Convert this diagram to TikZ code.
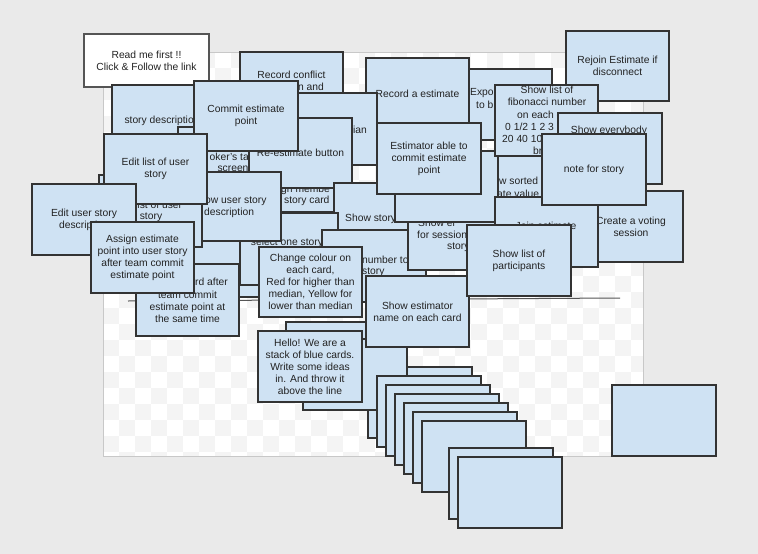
\documentclass[tikz,border=0pt]{standalone}
\usepackage{fontspec}
\setmainfont{Liberation Sans}
\definecolor{bg}{HTML}{EAEAEA}
\definecolor{chk}{HTML}{F4F4F4}
\definecolor{cardfill}{HTML}{CFE2F3}
\definecolor{cardline}{HTML}{333333}
\definecolor{txt}{HTML}{222222}
\definecolor{canvasline}{HTML}{C8C8C8}
\definecolor{rmline}{HTML}{555555}
\newcommand\crd[6]{\node[card, minimum width={#4-#2}, minimum height={#5-#3}] (#1) at ({(#2+#4)/2},{(#3+#5)/2}) {#6};}
\begin{document}
\begin{tikzpicture}[x=1pt,y=-1pt,
 card/.style={draw=cardline, fill=cardfill, line width=1.2pt, inner sep=0pt, outer sep=0pt, align=center, text=txt, font=\fontsize{10.3}{12}\selectfont},
 rdm/.style={card, draw=rmline, fill=white},
 lbl/.style={inner sep=0pt, align=center, text=txt, font=\fontsize{10.3}{12}\selectfont},
 lw/.style={lbl, anchor=west},
 le/.style={lbl, anchor=east}]
\useasboundingbox (0,0) rectangle (758,554);
\fill[bg] (0,0) rectangle (758,554);
\node[fill=white, minimum width=540, minimum height=404, inner sep=0pt, outer sep=0pt] (canvas) at (373,254) {};
\begin{scope}
\clip (103,52) rectangle (643,456);
\foreach \i in {0,2,...,34} \foreach \j in {0,2,...,26} {
  \fill[chk] (103+\i*16,52+\j*16) rectangle ++(16,16);
  \fill[chk] (119+\i*16,68+\j*16) rectangle ++(16,16);}
\end{scope}
\draw[canvasline, line width=0.8pt] (canvas.north west) rectangle (canvas.south east);
\coordinate (l1) at (128,301);
\coordinate (l2) at (620,298);
\draw[rmline, line width=1pt] (l1) -- (l2);

\node[rdm, minimum width=125, minimum height=53] (readme) at (146.5,60.5) {Read me first !!\\Click \& Follow the link};

\crd{recconf}{240}{52}{343}{123}{}
\node[lbl] (trecconf) at (291.5,75) {Record conflict};
\node[le] (trecconfb) at (324,87) {n and};
\crd{export}{448}{69}{552}{140}{}
\node[lw] (texport) at (470,93) {Expo};
\node[lw] (texportb) at (476,105) {to b};
\crd{recest}{366}{58}{469}{129}{Record a estimate}
\crd{median}{274}{93}{377}{165}{}
\node[le] (tmedian) at (367,130) {ian};
\crd{storydesc}{112}{85}{215}{157}{}
\node[lbl] (tstorydesc) at (162,121) {story description};
\crd{assignmem}{230}{140}{334}{212}{}
\node[lw] (tassignmem) at (281,190) {gn membe};
\node[lw] (tassignmemb) at (284,201) {story card};
\crd{poker}{178}{127}{281}{199}{}
\node[le] (tpoker) at (249,157) {oker's ta};
\node[lbl] (tpokerb) at (233,169) {screen};
\crd{reest}{249}{118}{352}{188}{Re-estimate button}
\crd{commit}{194}{81}{298}{151}{Commit estimate\\point}
\crd{showstory}{334}{183}{437}{255}{}
\node[lw] (tshowstory) at (345,219) {Show story};
\crd{hiddenw}{160}{226}{264}{297}{}
\crd{select}{240}{213}{338}{285}{}
\node[lbl] (tselect) at (287,243) {select one story};
\crd{showdesc}{178}{172}{281}{241}{}
\node[lw] (tshowdesc) at (205,201) {ow user story};
\node[lw] (tshowdescb) at (204,213) {description};
\crd{editlist2}{99}{175}{202}{247}{}
\node[lw] (teditlist2) at (135,205) {list of user};
\node[lbl] (teditlist2b) at (151,217) {story};
\crd{editlist}{104}{134}{207}{204}{Edit list of user\\story}
\crd{editusr}{32}{184}{136}{255}{Edit user story\\description}
\crd{reveal}{136}{264}{239}{336}{}
\node[lw] (treveal) at (195,282) {rd after};
\node[lbl] (trevealb) at (187.5,306.5) {team commit\\estimate point at\\the same time};
\crd{assign}{91}{222}{194}{293}{Assign estimate\\point into user story\\after team commit\\estimate point}

\crd{number}{322}{230}{426}{302}{}
\node[lw] (tnumber) at (362,260) {number to};
\node[lw] (tnumberb) at (362,272) {story};
\crd{showsorted}{458}{152}{562}{223}{}
\node[lw] (tshowsorted) at (499,181) {w sorted};
\node[lw] (tshowsortedb) at (497,194) {ate value};
\crd{showel}{408}{199}{511}{270}{}
\node[lw] (tshowel) at (418,223) {Show el};
\node[lw] (tshowelb) at (417,235) {for session};
\node[lw] (tshowelc) at (447,247) {story};
\crd{xone}{395}{151}{498}{222}{}
\crd{estimator}{377}{123}{481}{194}{Estimator able to\\commit estimate\\point}
\crd{rejoin}{566}{31}{669}{101}{Rejoin Estimate if\\disconnect}
\crd{fib}{495}{85}{598}{156}{}
\node[lbl] (tfib) at (547,96) {Show list of\\fibonacci number};
\node[lw] (tfibc) at (517,115) {on each c};
\node[lw] (tfibd) at (505,127) {0 1/2 1 2 3};
\node[lw] (tfibe) at (502,139) {20 40 10};
\node[lw] (tfibf) at (533,151) {br};
\crd{everybody}{558}{113}{662}{184}{}
\node[lbl] (teverybody) at (609,131) {Show everybody};
\crd{create}{579}{191}{683}{262}{Create a voting\\session}
\crd{join}{495}{197}{598}{267}{}
\node[lbl] (tjoin) at (546,226) {Join estimate};
\crd{note}{542}{134}{646}{205}{note for story}

\crd{stA}{368}{367}{472}{438}{}
\crd{stY}{286}{322}{390}{393}{}
\crd{stZ}{303}{339}{407}{410}{}
\crd{change}{259}{247}{362}{317}{Change colour on\\each card,\\Red for higher than\\median, Yellow for\\lower than median}
\crd{showest}{366}{276}{469}{347}{Show estimator\\name on each card}
\crd{participants}{467}{225}{571}{296}{Show list of\\participants}
\crd{hello}{258}{331}{362}{402}{Hello! We are a\\stack of blue cards.\\Write some ideas\\in. And throw it\\above the line}
\crd{stB}{377}{376}{481}{447}{}
\crd{stC}{386}{385}{490}{456}{}
\crd{stD}{395}{394}{499}{465}{}
\crd{stE}{404}{403}{508}{474}{}
\crd{stF}{413}{412}{517}{483}{}
\crd{stG}{422}{421}{526}{492}{}
\crd{stH}{449}{448}{553}{519}{}
\crd{stI}{458}{457}{562}{528}{}
\crd{lone}{612}{385}{716}{456}{}
\end{tikzpicture}
\end{document}
